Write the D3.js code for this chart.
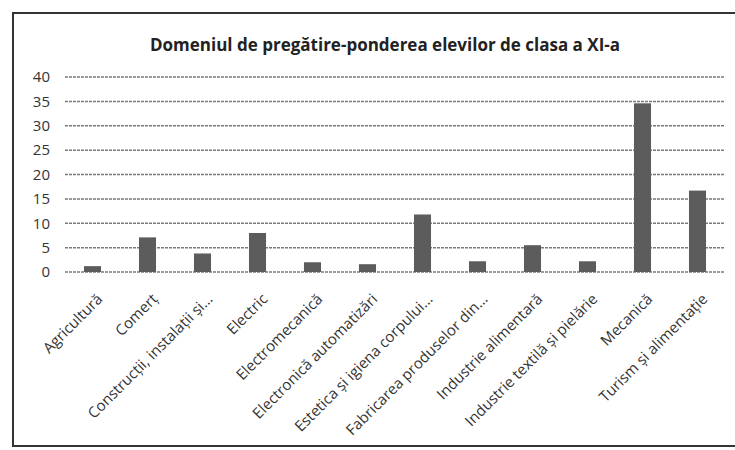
<!DOCTYPE html>
<html>
<head>
    <meta charset="utf-8">
    <title>Domeniul de pregătire</title>
    <script src="https://d3js.org/d3.v7.min.js"></script>
    <style>
        body { margin: 0; background: #fff; }
    </style>
</head>
<body>
    <svg width="735" height="450"></svg>
    <script>
        // Data
        const categories = [
            "Agricultură", "Comerț", "Construcții, instalații și...", "Electric",
            "Electromecanică", "Electronică automatizări", "Estetica și igiena corpului...",
            "Fabricarea produselor din...", "Industrie alimentară", "Industrie textilă și pielărie",
            "Mecanică", "Turism și alimentație"
        ];
        const values = [1.2, 7.1, 3.8, 8.0, 2.0, 1.6, 11.8, 2.2, 5.5, 2.2, 34.6, 16.7];
        const yTicks = [0, 5, 10, 15, 20, 25, 30, 35, 40];

        const svg = d3.select("svg");
        const font = "'Open Sans', sans-serif";

        // Frame (left, top, bottom edges visible)
        svg.append("path")
            .attr("d", "M735,13 H13 V446 H735")
            .attr("fill", "none")
            .attr("stroke", "#333")
            .attr("stroke-width", 2);

        // Title
        svg.append("text")
            .attr("x", 385)
            .attr("y", 51)
            .attr("text-anchor", "middle")
            .attr("font-family", font)
            .attr("font-weight", "bold")
            .attr("font-size", 17)
            .attr("fill", "#222")
            .text("Domeniul de pregătire-ponderea elevilor de clasa a XI-a");

        const plot = {left: 65, right: 725, top: 77, bottom: 272};

        const x = d3.scaleBand()
            .domain(categories)
            .range([plot.left, plot.right])
            .paddingInner(0.69)
            .paddingOuter(0.345);

        const y = d3.scaleLinear()
            .domain([0, 40])
            .range([plot.bottom, plot.top]);

        // Gridlines
        svg.append("g")
            .selectAll("line")
            .data(yTicks)
            .join("line")
            .attr("x1", plot.left)
            .attr("x2", plot.right)
            .attr("y1", d => y(d))
            .attr("y2", d => y(d))
            .attr("stroke", "#7a7a7a")
            .attr("stroke-width", 1.5)
            .attr("stroke-dasharray", "3,1");

        // Y axis labels
        const yAxis = svg.append("g")
            .attr("transform", `translate(${plot.left},0)`)
            .call(d3.axisLeft(y).tickValues(yTicks).tickSize(0).tickPadding(15));
        yAxis.select(".domain").remove();
        yAxis.selectAll("text")
            .attr("font-family", font)
            .attr("font-size", 15)
            .attr("fill", "#333");

        // Bars
        svg.append("g")
            .selectAll("rect")
            .data(values)
            .join("rect")
            .attr("x", (d, i) => x(categories[i]))
            .attr("y", d => y(d))
            .attr("width", x.bandwidth())
            .attr("height", d => y(0) - y(d))
            .attr("fill", "#5c5c5c");

        // X axis labels, rotated
        const xAxis = svg.append("g")
            .attr("transform", `translate(0,${plot.bottom})`)
            .call(d3.axisBottom(x).tickSize(0).tickPadding(0));
        xAxis.select(".domain").remove();
        xAxis.selectAll("text")
            .attr("font-family", font)
            .attr("font-size", 15)
            .attr("fill", "#333")
            .attr("text-anchor", "end")
            .attr("dy", null)
            .attr("transform", "translate(11,28) rotate(-45)");
    </script>
</body>
</html>
